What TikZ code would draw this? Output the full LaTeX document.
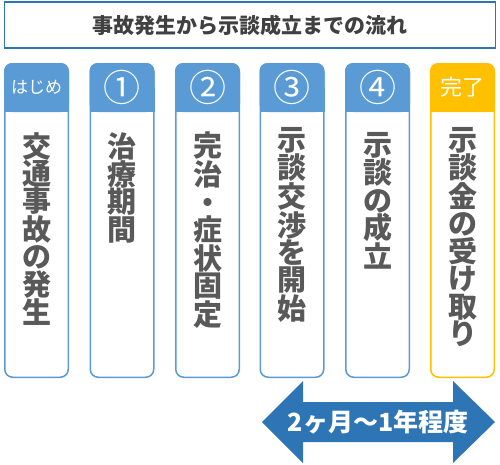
\documentclass[tikz,border=0pt]{standalone}
\usepackage{fontspec}
\setmainfont{Noto Sans CJK JP}
\usepackage{xcolor}
\usetikzlibrary{positioning}

\definecolor{stepblue}{HTML}{5B9BD5}
\definecolor{donegold}{HTML}{FFC000}
\definecolor{spanblue}{HTML}{2E75B6}
\definecolor{inkgray}{HTML}{595959}
\definecolor{titlegray}{HTML}{404040}

\begin{document}
\begin{tikzpicture}[x=1pt, y=-1pt,
  titlebox/.style={draw=spanblue, line width=1.2pt, fill=white, minimum width=491pt,
                   minimum height=46pt, inner sep=0pt, text=titlegray,
                   font=\fontsize{21}{21}\selectfont\bfseries},
  stagebody/.style={line width=1.5pt, fill=white, rounded corners=8pt,
                    minimum width=63.5pt, minimum height=313.5pt, inner sep=0pt},
  stagehead/.style={rounded corners=8pt, minimum width=65pt, minimum height=49pt,
                    inner sep=0pt, text=white},
  stagetext/.style={anchor=north, inner sep=0pt, align=center, text=inkgray},
  spanlabel/.style={text=white, inner sep=0pt, font=\fontsize{25}{25}\selectfont\bfseries}
]
  \useasboundingbox (0,0) rectangle (500,464);

  % title
  \node[titlebox] (title) at (250,25) {事故発生から示談成立までの流れ};

  % stages: index / left edge / colour / header / top of text / text
  \foreach \n/\x/\c/\hd/\ty/\txt in {
      0/4/stepblue/{\fontsize{17}{17}\selectfont はじめ}/132/{交\\通\\事\\故\\の\\発\\生},
      1/89.5/stepblue/{\fontsize{37}{37}\selectfont ①}/132/{治\\療\\期\\間},
      2/175/stepblue/{\fontsize{37}{37}\selectfont ②}/132/{完\\治\\・\\症\\状\\固\\定},
      3/259.5/stepblue/{\fontsize{37}{37}\selectfont ③}/127/{示\\談\\交\\渉\\を\\開\\始},
      4/345/stepblue/{\fontsize{37}{37}\selectfont ④}/132/{示\\談\\の\\成\\立},
      5/430/donegold/{\fontsize{22}{22}\selectfont 完了}/127/{示\\談\\金\\の\\受\\け\\取\\り}} {
    \node[stagebody, draw=\c] (body\n) at (\x+32.5,220.5) {};
    \fill[\c] (\x,88) rectangle (\x+65,112);
    \node[stagehead, fill=\c] (head\n) at (\x+32.5,87.5) {\hd};
    \node[stagetext, font=\fontsize{29}{27.4}\selectfont\bfseries] (txt\n) at (\x+32.5,\ty) {\txt};
  }

  % period arrow
  \node[spanlabel] (span) at (378,422) {2ヶ月〜1年程度};
  \fill[spanblue] (262,422) -- (303,381) -- (303,402) -- (453,402) -- (453,381)
    -- (495,422) -- (453,463) -- (453,442) -- (303,442) -- (303,463) -- cycle;
  \node[spanlabel] at (span) {2ヶ月〜1年程度};
\end{tikzpicture}
\end{document}
